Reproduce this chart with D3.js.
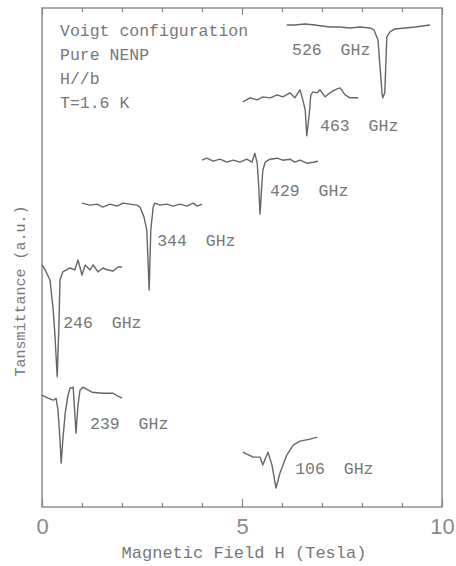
<!DOCTYPE html>
<html>
<head>
<meta charset="utf-8">
<script src="https://cdn.jsdelivr.net/npm/d3@7/dist/d3.min.js"></script>
<style>
  body { margin: 0; background: #fff; }
  text { font-family: "Liberation Mono", monospace; fill: #777; }
</style>
</head>
<body>
<svg id="esr_chart" width="456" height="566"></svg>
<script>
// spectra: [field (T), transmittance (a.u.)]
const spec526 = [[6.12,96.6],[6.32,96.6],[6.58,96.8],[6.82,96.6],[7.0,96.4],[7.2,96.2],[7.45,96.2],[7.7,96.0],[7.95,96.2],[8.2,96.0],[8.3,95.6],[8.4,93.6],[8.5,83.0],[8.52,82.0],[8.57,83.0],[8.62,94.2],[8.7,95.2],[8.82,95.8],[9.08,96.0],[9.32,96.2],[9.7,96.6]];
const spec463 = [[5.02,81.2],[5.2,82.0],[5.38,81.6],[5.52,82.2],[5.7,82.0],[5.88,82.6],[6.02,82.2],[6.2,83.0],[6.32,82.0],[6.45,83.6],[6.52,81.6],[6.58,79.6],[6.62,74.4],[6.68,78.6],[6.72,82.6],[6.78,83.2],[6.88,83.0],[6.95,83.6],[7.08,82.2],[7.2,83.0],[7.32,83.6],[7.45,84.0],[7.58,82.6],[7.7,82.0],[7.9,82.0]];
const spec429 = [[4.0,69.5],[4.12,69.9],[4.28,69.3],[4.45,69.7],[4.62,69.1],[4.78,69.5],[4.95,69.1],[5.12,69.7],[5.25,69.1],[5.32,70.9],[5.38,68.9],[5.42,64.0],[5.45,58.7],[5.5,65.0],[5.52,67.5],[5.58,69.1],[5.7,69.7],[5.88,69.9],[6.02,69.5],[6.2,69.7],[6.32,69.1],[6.45,69.5],[6.62,68.9],[6.78,69.1],[6.9,69.3]];
const spec344 = [[1.0,60.9],[1.2,60.5],[1.38,60.7],[1.52,60.1],[1.7,60.7],[1.88,60.3],[2.02,60.9],[2.2,60.7],[2.38,60.5],[2.45,60.1],[2.55,58.1],[2.62,55.5],[2.68,43.5],[2.72,55.5],[2.78,60.1],[2.82,60.9],[2.95,60.5],[3.12,60.7],[3.28,60.3],[3.45,60.7],[3.62,60.3],[3.78,60.9],[3.88,60.3],[4.0,60.7]];
const spec246 = [[0.0,48.5],[0.08,47.5],[0.2,45.5],[0.28,39.5],[0.32,34.9],[0.38,26.1],[0.42,35.5],[0.45,45.5],[0.52,47.1],[0.7,47.9],[0.82,47.5],[0.9,49.5],[1.0,46.5],[1.08,48.5],[1.2,47.5],[1.28,48.5],[1.4,47.1],[1.52,47.9],[1.65,47.5],[1.78,47.3],[1.9,48.1],[2.0,48.1]];
const spec239 = [[0.0,22.4],[0.15,21.8],[0.28,21.4],[0.35,21.8],[0.4,19.4],[0.45,13.4],[0.48,8.8],[0.52,13.4],[0.58,18.8],[0.65,22.4],[0.7,23.8],[0.78,24.0],[0.8,21.4],[0.85,14.8],[0.9,20.4],[0.95,23.4],[1.02,24.0],[1.25,23.0],[1.52,22.8],[1.78,22.8],[1.9,22.2],[2.0,21.8]];
const spec106 = [[5.02,11.0],[5.28,10.0],[5.45,10.0],[5.52,8.4],[5.65,11.0],[5.75,8.4],[5.85,3.8],[5.95,6.8],[6.12,10.4],[6.28,12.4],[6.45,13.2],[6.7,13.6],[6.88,14.0]];

const freqLabels = ["526 GHz", "463 GHz", "429 GHz", "344 GHz", "246 GHz", "239 GHz", "106 GHz"];
const notes = ["Voigt configuration", "Pure NENP", "H//b", "T=1.6 K"];
const xTicks = [0, 1, 2, 3, 4, 5, 6, 7, 8, 9, 10];

// where each frequency label sits, in data units
const labelAt = [[6.25,91.8],[6.95,76.6],[5.7,63.5],[2.88,53.5],[0.53,37.1],[1.2,16.8],[6.33,7.8]];

const svg = d3.select('#esr_chart');
const margin = { top: 8, right: 14, bottom: 59, left: 42 };
const width = +svg.attr('width');
const height = +svg.attr('height');
const innerWidth = width - margin.left - margin.right;
const innerHeight = height - margin.top - margin.bottom;

const xScale = d3.scaleLinear().domain([0, 10]).range([0, innerWidth]);
const yScale = d3.scaleLinear().domain([0, 100]).range([innerHeight, 0]);

const g = svg.append('g')
    .attr('transform', `translate(${margin.left},${margin.top})`);

// bottom axis, ticks pointing inward
const bottomAxis = g.append('g')
    .attr('transform', `translate(0,${innerHeight})`)
    .call(d3.axisBottom(xScale)
        .tickValues(xTicks)
        .tickSize(-4)
        .tickPadding(11)
        .tickFormat(d => d % 5 === 0 ? d : ''));
bottomAxis.select('.domain').remove();
bottomAxis.selectAll('.tick line')
    .attr('y2', d => d % 5 === 0 ? -8 : -4)
    .attr('stroke', '#888').attr('stroke-width', 1.2);
bottomAxis.selectAll('.tick text')
    .style('font-family', '"Liberation Sans", sans-serif')
    .style('font-size', '22px')
    .style('fill', '#8a8a8a');

// top axis, ticks only
const topAxis = g.append('g')
    .call(d3.axisTop(xScale).tickValues(xTicks).tickSize(-4).tickFormat(''));
topAxis.select('.domain').remove();
topAxis.selectAll('.tick line')
    .attr('y2', d => d % 5 === 0 ? 7 : 4)
    .attr('stroke', '#888').attr('stroke-width', 1.2);

// frame
g.append('rect')
    .attr('width', innerWidth)
    .attr('height', innerHeight)
    .attr('fill', 'none')
    .attr('stroke', '#888')
    .attr('stroke-width', 1.4);

const line = d3.line()
    .x(d => xScale(d[0]))
    .y(d => yScale(d[1]));

const spectra = [spec526, spec463, spec429, spec344, spec246, spec239, spec106];

g.selectAll('.spectrum')
    .data(spectra)
    .enter()
    .append('path')
    .attr('class', 'spectrum')
    .attr('fill', 'none')
    .attr('stroke', '#666')
    .attr('stroke-width', 1.4)
    .attr('stroke-linejoin', 'round')
    .attr('d', line);

g.selectAll('.freq')
    .data(freqLabels)
    .enter()
    .append('text')
    .attr('class', 'freq')
    .attr('x', (d, i) => xScale(labelAt[i][0]))
    .attr('y', (d, i) => yScale(labelAt[i][1]))
    .attr('dy', '0.35em')
    .style('font-size', '16.5px')
    .style('word-spacing', '9px')
    .text(d => d);

g.selectAll('.note')
    .data(notes)
    .enter()
    .append('text')
    .attr('class', 'note')
    .attr('x', 18)
    .attr('y', (d, i) => 22 + i * 24)
    .attr('dy', '0.35em')
    .style('font-size', '16.5px')
    .text(d => d);

addAxesLabels(g);

function addAxesLabels(g) {
    g.append('text')
        .attr('x', 202)
        .attr('y', innerHeight + 45)
        .attr('dy', '0.35em')
        .style('text-anchor', 'middle')
        .style('font-size', '17px')
        .text('Magnetic Field H (Tesla)');
    g.append('text')
        .attr('transform', 'rotate(-90)')
        .attr('x', -283)
        .attr('y', -22)
        .attr('dy', '0.35em')
        .style('text-anchor', 'middle')
        .style('font-size', '15px')
        .text('Tansmittance (a.u.)');
}
</script>
</body>
</html>
